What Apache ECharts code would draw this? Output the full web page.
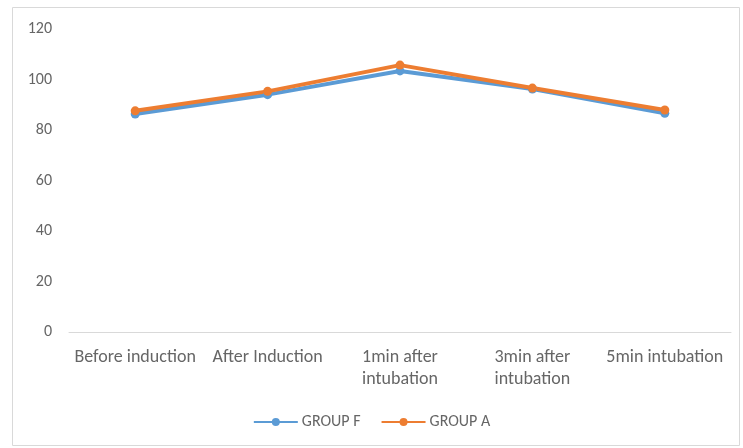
<!DOCTYPE html>
<html>
<head>
<meta charset="utf-8">
<script src="https://cdn.jsdelivr.net/npm/echarts@6/dist/echarts.min.js"></script>
<style>
  html, body { margin: 0; padding: 0; background: #fff; }
  #chart { width: 743px; height: 448px; }
</style>
</head>
<body>
<div id="chart"></div>
<script>
// Time points along the x axis
const categories = ['Before induction', 'After Induction', '1min after\nintubation', '3min after\nintubation', '5min intubation'];
// Mean values for each group
const groupF = [86.3, 94.0, 103.4, 96.2, 86.6];
const groupA = [87.6, 95.3, 105.7, 96.6, 87.9];
// Value axis ticks
const yTicks = [0, 20, 40, 60, 80, 100, 120];

const chart = echarts.init(document.getElementById('chart'));
const font = 'Carlito, Lato, "Open Sans", sans-serif';

chart.setOption({
  animation: false,
  graphic: [{
    type: 'rect',
    shape: { x: 12.5, y: 7.5, width: 727, height: 438 },
    style: { fill: 'none', stroke: '#d9d9d9', lineWidth: 1 }
  }],
  grid: { left: 69, right: 12, top: 29, bottom: 116 },
  xAxis: {
    type: 'category',
    data: categories,
    boundaryGap: true,
    axisLine: { lineStyle: { color: '#d9d9d9', width: 1 } },
    axisTick: { show: false },
    axisLabel: { color: '#666666', fontSize: 18, fontFamily: font, margin: 14, lineHeight: 22, interval: 0 }
  },
  yAxis: {
    type: 'value',
    min: yTicks[0],
    max: yTicks[yTicks.length - 1],
    interval: 20,
    axisLine: { show: false },
    axisTick: { show: false },
    splitLine: { show: false },
    axisLabel: { color: '#666666', fontSize: 16, fontFamily: font, margin: 17 }
  },
  legend: {
    bottom: 13,
    left: 'center',
    itemWidth: 44,
    itemHeight: 10,
    itemGap: 20,
    textStyle: { color: '#666666', fontSize: 16, fontFamily: font, padding: [0, 0, 0, -1] },
    data: ['GROUP F', 'GROUP A']
  },
  series: [
    {
      name: 'GROUP F',
      type: 'line',
      data: groupF,
      color: '#5B9BD5',
      lineStyle: { width: 4, color: '#5B9BD5' },
      symbol: 'circle',
      symbolSize: 9,
      itemStyle: { color: '#5B9BD5' }
    },
    {
      name: 'GROUP A',
      type: 'line',
      data: groupA,
      color: '#ED7D31',
      lineStyle: { width: 4, color: '#ED7D31' },
      symbol: 'circle',
      symbolSize: 9,
      itemStyle: { color: '#ED7D31' }
    }
  ]
});
</script>
</body>
</html>
